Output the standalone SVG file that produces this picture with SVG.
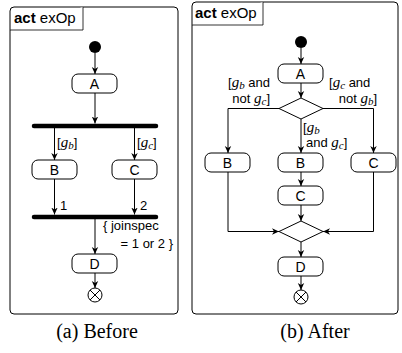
<svg xmlns="http://www.w3.org/2000/svg" width="402" height="353" viewBox="0 0 402 353">
<defs>
<marker id="ah" markerWidth="8" markerHeight="8" refX="7" refY="4" orient="auto" markerUnits="userSpaceOnUse">
<path d="M0,0.8 L7,4 L0,7.2 L2,4 Z" fill="#000"/>
</marker>
<style>
.frame{fill:#fff;stroke:#000;stroke-width:1}
.tab{fill:#fff;stroke:#000;stroke-width:0.8}
.act{fill:#fff;stroke:#000;stroke-width:1}
.bar{stroke:#000;stroke-width:4.5;stroke-linecap:round}
.edge{fill:none;stroke:#000;stroke-width:1;marker-end:url(#ah)}
.line{fill:none;stroke:#000;stroke-width:1}
.t{font-family:"Liberation Sans",Arial,sans-serif;font-size:15px;fill:#000}
.nl{font-family:"Liberation Sans",Arial,sans-serif;font-size:14px;fill:#000;text-anchor:middle}
.lb{font-family:"Liberation Sans",Arial,sans-serif;font-size:13px;fill:#000}
.m{font-family:"Liberation Serif","Times New Roman",serif;font-style:italic}
.cap{font-family:"Liberation Serif","Times New Roman",serif;font-size:20px;fill:#000;text-anchor:middle}
</style>
</defs>
<rect width="402" height="353" fill="#fff"/>

<!-- Left: Before -->
<g id="frameA">
<rect class="frame" x="10" y="7" width="168" height="307" rx="4"/>
<path class="tab" d="M10,30 H83 V7"/>
<text class="t" x="14" y="23"><tspan font-weight="bold">act</tspan> exOp</text>
</g>
<g id="a_init"><circle cx="95" cy="47" r="6" fill="#000"/></g>
<g id="a_A"><rect class="act" x="72" y="74" width="45" height="19" rx="6"/><text class="nl" x="94.5" y="89">A</text></g>
<g id="a_fork"><line class="bar" x1="34" y1="126" x2="156" y2="126"/></g>
<g id="a_B"><rect class="act" x="32" y="160" width="45" height="19" rx="6"/><text class="nl" x="54.5" y="175">B</text></g>
<g id="a_C"><rect class="act" x="112" y="160" width="45" height="19" rx="6"/><text class="nl" x="134.5" y="175">C</text></g>
<g id="a_join"><line class="bar" x1="34" y1="217" x2="156" y2="217"/></g>
<g id="a_D"><rect class="act" x="72" y="254" width="45" height="19" rx="6"/><text class="nl" x="94.5" y="269">D</text></g>
<g id="a_final"><circle cx="95" cy="295" r="7" fill="#fff" stroke="#000" stroke-width="1"/><path class="line" d="M90,290 L100,300 M100,290 L90,300"/></g>

<!-- Right: After -->
<g id="frameB">
<rect class="frame" x="192" y="2" width="206" height="312" rx="4"/>
<path class="tab" d="M192,25 H263 V2"/>
<text class="t" x="195" y="18"><tspan font-weight="bold">act</tspan> exOp</text>
</g>
<g id="b_init"><circle cx="301" cy="42" r="6" fill="#000"/></g>
<g id="b_A"><rect class="act" x="278" y="64" width="45" height="19" rx="6"/><text class="nl" x="300.5" y="79">A</text></g>
<g id="b_dec"><polygon class="act" points="301,98 323,108.5 301,119 279,108.5"/></g>
<g id="b_B1"><rect class="act" x="205" y="153" width="45" height="19" rx="6"/><text class="nl" x="227.5" y="168">B</text></g>
<g id="b_B2"><rect class="act" x="278" y="153" width="45" height="19" rx="6"/><text class="nl" x="300.5" y="168">B</text></g>
<g id="b_C1"><rect class="act" x="351" y="153" width="45" height="19" rx="6"/><text class="nl" x="373.5" y="168">C</text></g>
<g id="b_C2"><rect class="act" x="278" y="186" width="45" height="19" rx="6"/><text class="nl" x="300.5" y="201">C</text></g>
<g id="b_merge"><polygon class="act" points="301,221 323,231.5 301,242 279,231.5"/></g>
<g id="b_D"><rect class="act" x="278" y="257" width="45" height="19" rx="6"/><text class="nl" x="300.5" y="272">D</text></g>
<g id="b_final"><circle cx="301" cy="297" r="7" fill="#fff" stroke="#000" stroke-width="1"/><path class="line" d="M296,292 L306,302 M306,292 L296,302"/></g>

<g id="connectors">
<line class="edge" x1="95" y1="53" x2="95" y2="74"/>
<line class="edge" x1="95" y1="93" x2="95" y2="123.5"/>
<line class="edge" x1="54.5" y1="128" x2="54.5" y2="160"/>
<line class="edge" x1="134.5" y1="128" x2="134.5" y2="160"/>
<line class="edge" x1="54.5" y1="179" x2="54.5" y2="214.5"/>
<line class="edge" x1="134.5" y1="179" x2="134.5" y2="214.5"/>
<line class="edge" x1="95" y1="219" x2="95" y2="254"/>
<line class="edge" x1="95" y1="273" x2="95" y2="288"/>

<line class="edge" x1="301" y1="48" x2="301" y2="64"/>
<line class="edge" x1="301" y1="83" x2="301" y2="98"/>
<polyline class="edge" points="279,108.5 228,108.5 228,153"/>
<line class="edge" x1="301" y1="119" x2="301" y2="153"/>
<polyline class="edge" points="323,108.5 373.5,108.5 373.5,153"/>
<line class="edge" x1="301" y1="172" x2="301" y2="186"/>
<line class="edge" x1="301" y1="205" x2="301" y2="221"/>
<polyline class="edge" points="228,172 228,231.5 279,231.5"/>
<polyline class="edge" points="373.5,172 373.5,231.5 323,231.5"/>
<line class="edge" x1="301" y1="242" x2="301" y2="257"/>
<line class="edge" x1="301" y1="276" x2="301" y2="290"/>
</g>

<g id="labels">
<text class="lb" x="57" y="147">[<tspan class="m" font-size="15">g</tspan><tspan class="m" font-size="11" dy="2">b</tspan><tspan dy="-2">]</tspan></text>
<text class="lb" x="137" y="147">[<tspan class="m" font-size="15">g</tspan><tspan class="m" font-size="11" dy="2">c</tspan><tspan dy="-2">]</tspan></text>
<text class="lb" x="60" y="210">1</text>
<text class="lb" x="140" y="210">2</text>
<text class="lb" x="103" y="230">{ joinspec</text>
<text class="lb" x="173" y="248" text-anchor="end">= 1 or 2 }</text>

<text class="lb" x="270" y="87" text-anchor="end">[<tspan class="m" font-size="15">g</tspan><tspan class="m" font-size="11" dy="2">b</tspan><tspan dy="-2"> and</tspan></text>
<text class="lb" x="270" y="103" text-anchor="end">not <tspan class="m" font-size="15">g</tspan><tspan class="m" font-size="11" dy="2">c</tspan><tspan dy="-2">]</tspan></text>
<text class="lb" x="329" y="87">[<tspan class="m" font-size="15">g</tspan><tspan class="m" font-size="11" dy="2">c</tspan><tspan dy="-2"> and</tspan></text>
<text class="lb" x="377" y="103" text-anchor="end">not <tspan class="m" font-size="15">g</tspan><tspan class="m" font-size="11" dy="2">b</tspan><tspan dy="-2">]</tspan></text>
<text class="lb" x="303" y="132">[<tspan class="m" font-size="15">g</tspan><tspan class="m" font-size="11" dy="2">b</tspan></text>
<text class="lb" x="306" y="147">and <tspan class="m" font-size="15">g</tspan><tspan class="m" font-size="11" dy="2">c</tspan><tspan dy="-2">]</tspan></text>
</g>

<text class="cap" x="97" y="338">(a) Before</text>
<text class="cap" x="315" y="338">(b) After</text>
</svg>
